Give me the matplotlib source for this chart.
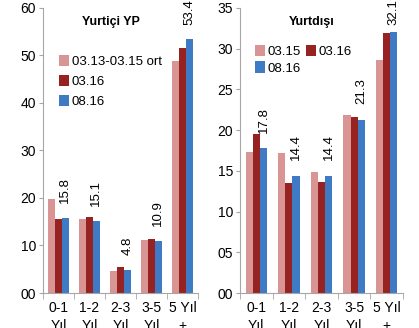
import numpy as np
import matplotlib.pyplot as plt
from matplotlib.ticker import FormatStrFormatter, FixedLocator

plt.rcParams['font.family'] = ['Liberation Sans', 'DejaVu Sans']

categories = ["0-1\nYıl", "1-2\nYıl", "2-3\nYıl", "3-5\nYıl", "5 Yıl\n+"]

# Yurtici YP
dom_labels = ["03.13-03.15 ort", "03.16", "08.16"]
dom_avg = [19.7, 15.5, 4.7, 11.1, 48.8]
dom_0316 = [15.5, 16.0, 5.5, 11.4, 51.6]
dom_0816 = [15.8, 15.1, 4.8, 10.9, 53.4]

# Yurtdisi
ext_labels = ["03.15", "03.16", "08.16"]
ext_0315 = [17.3, 17.2, 14.8, 21.9, 28.6]
ext_0316 = [19.5, 13.5, 13.6, 21.6, 31.9]
ext_0816 = [17.8, 14.4, 14.4, 21.3, 32.1]

colors = ["#D99594", "#962222", "#3E7BC4"]
GRID = "#A6A6A6"
LABEL_PX = 24   # approx length of a rotated value label in pixels


def draw_panel(fig, ax, series, labels, title, ymax, ystep):
    x = np.arange(len(categories))
    w = 0.22
    for i, (vals, lab, col) in enumerate(zip(series, labels, colors)):
        ax.bar(x + (i - 1) * w, vals, width=w, color=col, label=lab)
    ax.set_xlim(-0.5, len(categories) - 0.5)
    ax.set_ylim(0, ymax)
    # value labels over the last series, pushed down when near the top
    fig_h = fig.bbox.height
    px_per_pt = fig.dpi / 72.0
    for xi, v in zip(x, series[-1]):
        top_px = ax.transData.transform((xi, v))[1]
        room = fig_h - 1 - top_px - LABEL_PX
        off = max(1.5, min(11, room / px_per_pt))
        ax.annotate(f"{v:.1f}", (xi + w, v), xytext=(0, off),
                    textcoords="offset points", rotation=90,
                    ha="center", va="bottom", fontsize=9.5,
                    annotation_clip=False)
    ax.set_yticks(np.arange(0, ymax + 0.1, ystep))
    ax.yaxis.set_major_formatter(FormatStrFormatter('%02d'))
    ax.set_xticks(x)
    ax.set_xticklabels(categories, fontsize=10, linespacing=1.3)
    ax.xaxis.set_minor_locator(FixedLocator(np.arange(-0.5, len(categories), 1)))
    ax.tick_params(axis='x', which='major', length=0, pad=6)
    ax.tick_params(axis='x', which='minor', length=4, color=GRID)
    ax.tick_params(axis='y', length=3, color=GRID, labelsize=10, pad=2)
    for s in ("top", "right"):
        ax.spines[s].set_visible(False)
    for s in ("left", "bottom"):
        ax.spines[s].set_color(GRID)
    ax.text(0.44, 0.95, title, transform=ax.transAxes, ha="center",
            va="center", fontsize=9, fontweight="bold")


fig = plt.figure(figsize=(4.19, 3.28), dpi=100)
ax1 = fig.add_axes([0.1026, 0.1067, 0.37, 0.869])
ax2 = fig.add_axes([0.5728, 0.1067, 0.389, 0.869])

draw_panel(fig, ax1, [dom_avg, dom_0316, dom_0816], dom_labels, "Yurtiçi YP", 60, 10)
draw_panel(fig, ax2, [ext_0315, ext_0316, ext_0816], ext_labels, "Yurtdışı", 35, 5)

ax1.legend(loc="upper left", bbox_to_anchor=(0.07, 0.855), frameon=False,
           fontsize=9.5, handlelength=0.75, handleheight=1.0,
           handletextpad=0.2, labelspacing=0.5, borderaxespad=0)

# two columns, filled row by row: 03.15, 03.16 / 08.16
h, l = ax2.get_legend_handles_labels()
order = [0, 2, 1]
ax2.legend([h[i] for i in order], [l[i] for i in order],
           loc="upper left", bbox_to_anchor=(0.06, 0.89), frameon=False,
           fontsize=9.5, ncol=2, handlelength=0.75, handleheight=1.0,
           handletextpad=0.2, labelspacing=0.25, columnspacing=0.4,
           borderaxespad=0)

fig.savefig("out.png", dpi=100)
